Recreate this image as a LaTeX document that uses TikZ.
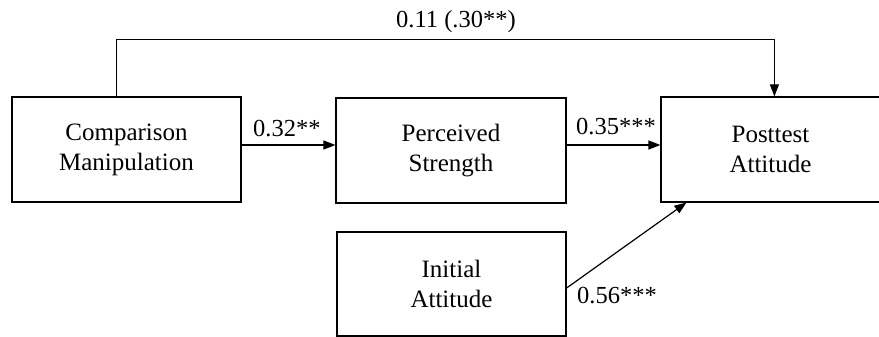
\documentclass[tikz,border=0pt]{standalone}
\usepackage{fontspec}
\setmainfont{Liberation Serif}
\usetikzlibrary{arrows.meta,calc}
\begin{document}
\begin{tikzpicture}[x=1pt,y=-1pt,
  box/.style={draw, line width=1.2pt, inner sep=0pt, align=center,
    font=\fontsize{25}{30}\selectfont},
  lbl/.style={font=\fontsize{24.5}{30}\selectfont, inner sep=0pt, anchor=base west},
  conn/.style={line width=1.2pt, -{Triangle[length=12pt,width=9pt]}}]
\useasboundingbox (0,0) rectangle (879,337);
\node[box, minimum width=229pt, minimum height=105pt] (cm) at (126.5,149.5) {Comparison\\Manipulation};
\node[box, minimum width=230pt, minimum height=105pt] (ps) at (451,150.5) {Perceived\\Strength};
\node[box, minimum width=219pt, minimum height=105pt] (pa) at (770.5,149.5) {Posttest\\Attitude};
\node[box, minimum width=229pt, minimum height=104pt] (ia) at (451.5,284) {Initial\\Attitude};
\draw[conn] ($(cm.north west)+(105,0)$) -- ++(0,-57) -| ($(pa.north west)+(114,0)$);
\draw[conn] ([yshift=4.5pt]cm.east) -- ([yshift=4.5pt]cm.east -| ps.west);
\draw[conn] ([yshift=5.5pt]ps.east) -- ([yshift=5.5pt]ps.east -| pa.west);
\draw[conn] ([yshift=-4pt]ia.east) -- ($(pa.south west)+(26,0)$);
\node[lbl] (l1) at (253,136) {0.32**};
\node[lbl] (l2) at (576,134) {0.35***};
\node[lbl] (l3) at (577,303) {0.56***};
\node[lbl] (l4) at (396,28) {0.11 (.30**)};
\end{tikzpicture}
\end{document}
